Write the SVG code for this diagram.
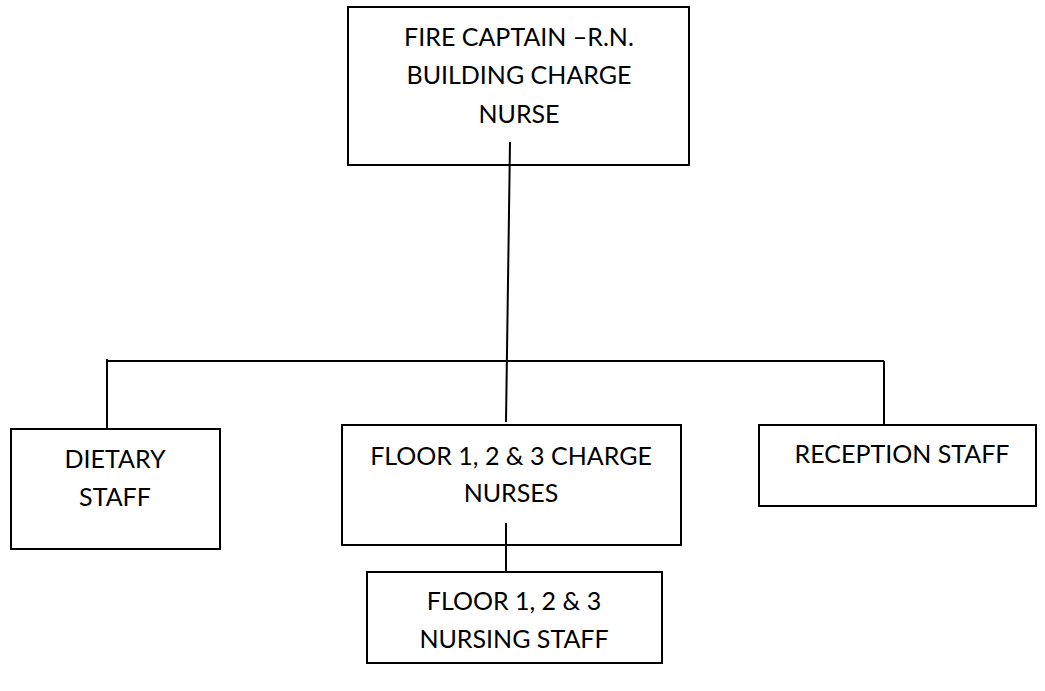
<svg xmlns="http://www.w3.org/2000/svg" width="1045" height="691" viewBox="0 0 1045 691">
<style>
.box{fill:#fff;stroke:#000;stroke-width:2}
.ln{stroke:#000;stroke-width:2;fill:none}
text{font-family:Lato,"Liberation Sans",sans-serif;font-size:25px;fill:#000;text-anchor:middle}
</style>
<rect width="1045" height="691" fill="#fff"/>
<g id="n-captain">
<rect class="box" x="348" y="7" width="341" height="158"/>
<text x="519" y="46">FIRE CAPTAIN –R.N.</text>
<text x="519" y="84">BUILDING CHARGE</text>
<text x="519" y="123">NURSE</text>
</g>
<g id="n-dietary">
<rect class="box" x="11" y="429" width="209" height="120"/>
<text x="115" y="468">DIETARY</text>
<text x="115" y="506">STAFF</text>
</g>
<g id="n-charge">
<rect class="box" x="342" y="425" width="339" height="120"/>
<text x="511" y="465">FLOOR 1, 2 &amp; 3 CHARGE</text>
<text x="511" y="502">NURSES</text>
</g>
<g id="n-reception">
<rect class="box" x="759" y="425" width="277" height="81"/>
<text x="902" y="463">RECEPTION STAFF</text>
</g>
<g id="n-nursing">
<rect class="box" x="367" y="572" width="295" height="91"/>
<text x="514" y="610">FLOOR 1, 2 &amp; 3</text>
<text x="514" y="648">NURSING STAFF</text>
</g>
<g id="connectors">
<line class="ln" x1="510" y1="142" x2="506" y2="422"/>
<line class="ln" x1="107" y1="361" x2="884" y2="361"/>
<line class="ln" x1="107" y1="359" x2="107" y2="429"/>
<line class="ln" x1="884" y1="361" x2="884" y2="425"/>
<line class="ln" x1="506" y1="523" x2="506" y2="572"/>
</g>
</svg>
